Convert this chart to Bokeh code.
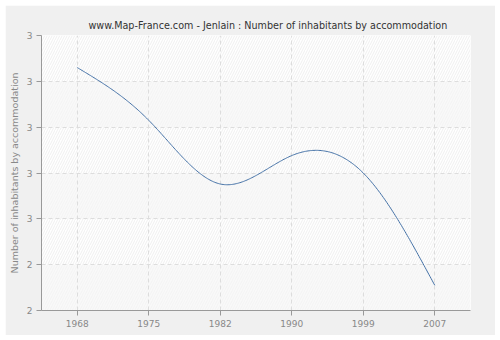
import numpy as np
from bokeh.plotting import figure
from bokeh.models import Range1d, FixedTicker
from bokeh.embed import file_html
from bokeh.resources import INLINE

# ---- data ----
years = ["1968", "1975", "1982", "1990", "1999", "2007"]
values = [2.830, 2.715, 2.576, 2.638, 2.600, 2.355]
y_ticks = [2.3, 2.4, 2.5, 2.6, 2.7, 2.8, 2.9]
y_tick_labels = ["2", "2", "3", "3", "3", "3", "3"]
title = "www.Map-France.com - Jenlain : Number of inhabitants by accommodation"
y_label = "Number of inhabitants by accommodation"

xs = np.arange(len(years), dtype=float)
ys = np.array(values, dtype=float)


def natural_spline(x, y, n=300):
    k = len(x)
    h = np.diff(x)
    A = np.zeros((k, k))
    b = np.zeros(k)
    A[0, 0] = 1
    A[-1, -1] = 1
    for i in range(1, k - 1):
        A[i, i - 1] = h[i - 1]
        A[i, i] = 2 * (h[i - 1] + h[i])
        A[i, i + 1] = h[i]
        b[i] = 3 * ((y[i + 1] - y[i]) / h[i] - (y[i] - y[i - 1]) / h[i - 1])
    c = np.linalg.solve(A, b)
    xx = np.linspace(x[0], x[-1], n)
    yy = np.empty_like(xx)
    for j, t in enumerate(xx):
        i = min(np.searchsorted(x, t, side="right") - 1, k - 2)
        d = (c[i + 1] - c[i]) / (3 * h[i])
        bb = (y[i + 1] - y[i]) / h[i] - h[i] * (2 * c[i] + c[i + 1]) / 3
        dx = t - x[i]
        yy[j] = y[i] + bb * dx + c[i] * dx ** 2 + d * dx ** 3
    return xx, yy


sx, sy = natural_spline(xs, ys)

FONT = "DejaVu Sans"

p = figure(
    width=490, height=330,
    frame_width=429, frame_height=275,
    x_range=Range1d(-0.5, len(years) - 0.5),
    y_range=Range1d(y_ticks[0], y_ticks[-1]),
    output_backend="svg", toolbar_location=None,
    min_border_left=36, min_border_right=25, min_border_top=30, min_border_bottom=25,
    border_fill_color="#F0F0F0", background_fill_color="#FFFFFF",
    outline_line_color=None,
    title=title,
)
p.margin = (5, 5, 5, 5)

p.title.align = "left"
p.title.offset = 47
p.title.text_font = FONT
p.title.text_font_size = "9.6px"
p.title.text_font_style = "normal"
p.title.text_color = "#333333"

# background bands with hatch
band_lo = y_ticks[:-1]
band_hi = y_ticks[1:]
fills = ["#F9F9F9" if i % 2 == 0 else "#FFFFFF" for i in range(len(band_lo))]
hatch_c = ["#F0F0F0" if i % 2 == 0 else "#E8E8E8" for i in range(len(band_lo))]
bands = p.quad(left=-0.5, right=len(years) - 0.5, bottom=band_lo, top=band_hi,
               fill_color=fills, line_color=None,
               hatch_pattern="/", hatch_color=hatch_c, hatch_scale=5, hatch_weight=0.7)
bands.level = "image"

p.line(sx, sy, line_color="#4572A7", line_width=1)

# axes
p.xaxis.ticker = FixedTicker(ticks=list(xs))
p.xaxis.major_label_overrides = {float(i): y for i, y in enumerate(years)}
p.yaxis.ticker = FixedTicker(ticks=y_ticks)
p.yaxis.major_label_overrides = {t: l for t, l in zip(y_ticks, y_tick_labels)}
p.yaxis.axis_label = y_label

for ax in (p.xaxis, p.yaxis):
    ax.axis_line_color = "#999999"
    ax.major_tick_line_color = "#999999"
    ax.major_tick_in = 0
    ax.major_tick_out = 5
    ax.minor_tick_line_color = None
    ax.major_label_standoff = 4
    ax.axis_label_standoff = 4
    ax.major_label_text_font = FONT
    ax.major_label_text_font_size = "9px"
    ax.major_label_text_color = "#888888"
    ax.axis_label_text_font = FONT
    ax.axis_label_text_font_size = "9.5px"
    ax.axis_label_text_font_style = "normal"
    ax.axis_label_text_color = "#888888"

p.xgrid.grid_line_color = "#DDDDDD"
p.xgrid.grid_line_dash = "4 3"
p.ygrid.grid_line_color = "#DDDDDD"
p.ygrid.grid_line_dash = "4 3"

open("out.html", "w").write(file_html(p, INLINE))
